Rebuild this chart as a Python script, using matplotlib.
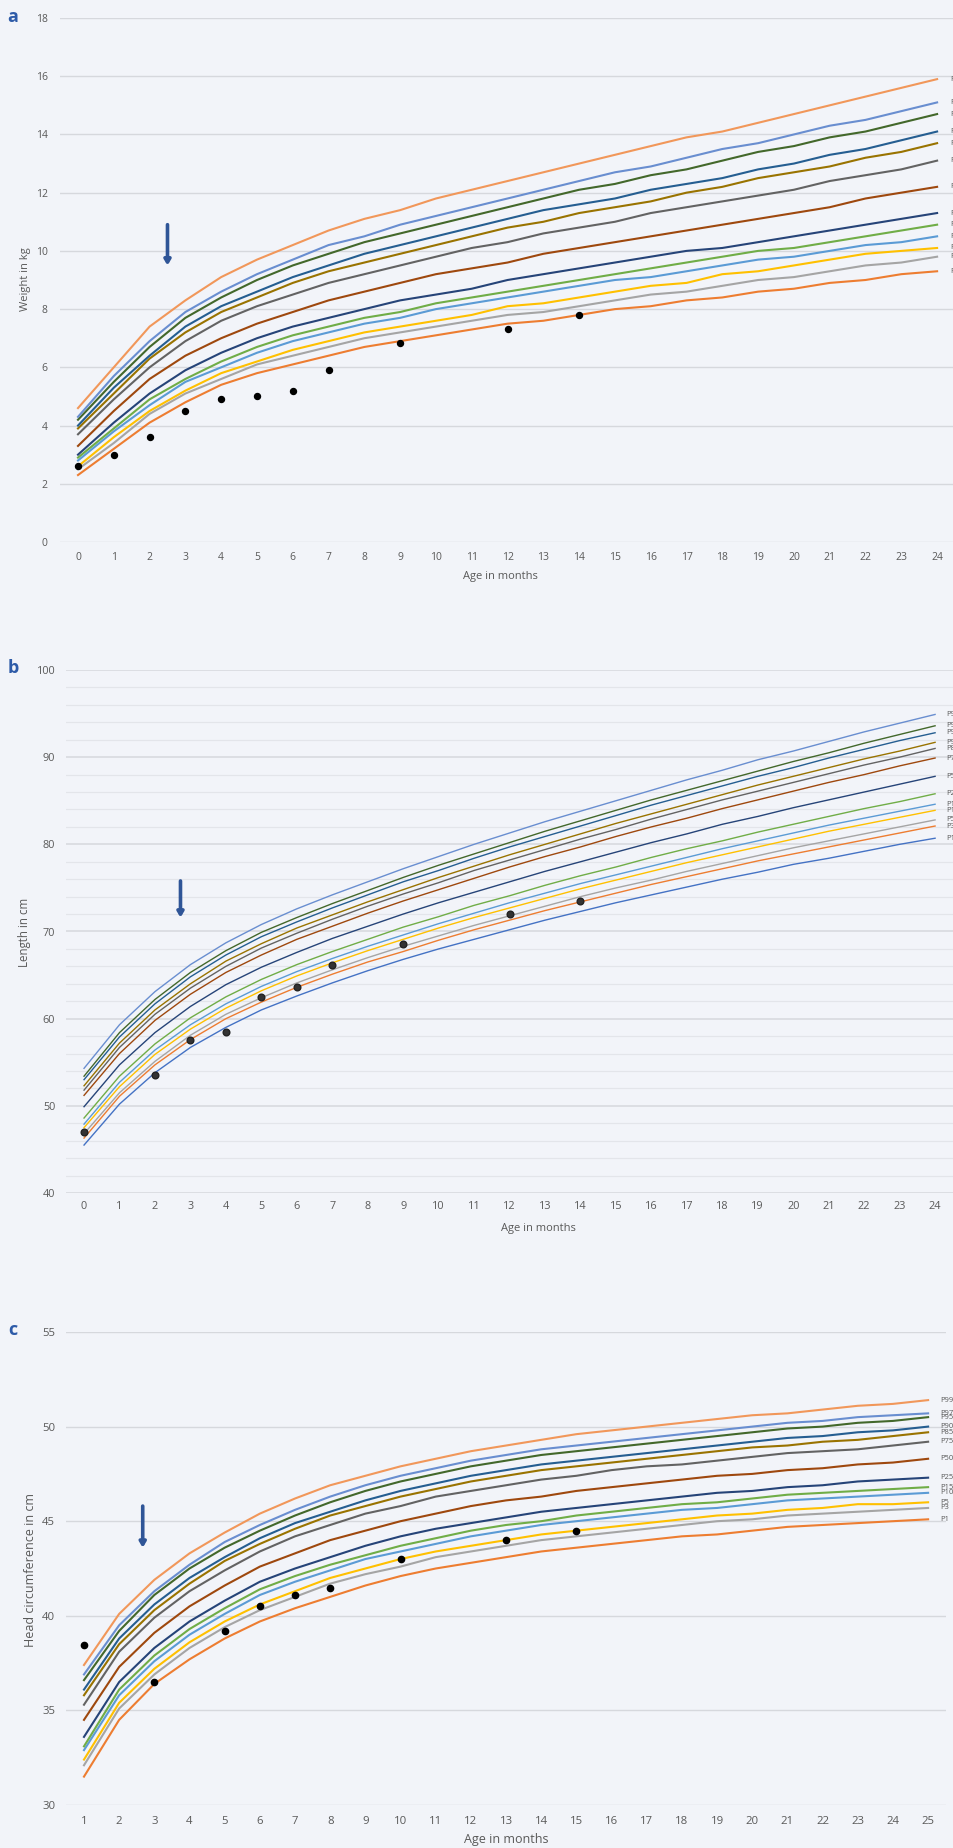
import numpy as np
import matplotlib
matplotlib.use('Agg')
import matplotlib.pyplot as plt

# ---- data ----
pct_labels = ['P1', 'P3', 'P5', 'P10', 'P15', 'P25', 'P50', 'P75', 'P85', 'P90', 'P95', 'P97', 'P99']

months = list(range(0, 25))
hc_x = list(range(1, 26))

weight = {
    'P1':  [2.3, 3.2, 4.1, 4.8, 5.4, 5.8, 6.1, 6.4, 6.7, 6.9, 7.1, 7.3, 7.5, 7.6, 7.8, 8.0, 8.1, 8.3, 8.4, 8.6, 8.7, 8.9, 9.0, 9.2, 9.3],
    'P3':  [2.5, 3.4, 4.4, 5.1, 5.6, 6.1, 6.4, 6.7, 7.0, 7.2, 7.4, 7.6, 7.8, 7.9, 8.1, 8.3, 8.5, 8.6, 8.8, 9.0, 9.1, 9.3, 9.5, 9.6, 9.8],
    'P5':  [2.6, 3.6, 4.5, 5.2, 5.8, 6.2, 6.6, 6.9, 7.2, 7.4, 7.6, 7.8, 8.1, 8.2, 8.4, 8.6, 8.8, 8.9, 9.2, 9.3, 9.5, 9.7, 9.9, 10.0, 10.1],
    'P10': [2.8, 3.8, 4.7, 5.5, 6.0, 6.5, 6.9, 7.2, 7.5, 7.7, 8.0, 8.2, 8.4, 8.6, 8.8, 9.0, 9.1, 9.3, 9.5, 9.7, 9.8, 10.0, 10.2, 10.3, 10.5],
    'P15': [2.9, 3.9, 4.9, 5.6, 6.2, 6.7, 7.1, 7.4, 7.7, 7.9, 8.2, 8.4, 8.6, 8.8, 9.0, 9.2, 9.4, 9.6, 9.8, 10.0, 10.1, 10.3, 10.5, 10.7, 10.9],
    'P25': [3.0, 4.1, 5.1, 5.9, 6.5, 7.0, 7.4, 7.7, 8.0, 8.3, 8.5, 8.7, 9.0, 9.2, 9.4, 9.6, 9.8, 10.0, 10.1, 10.3, 10.5, 10.7, 10.9, 11.1, 11.3],
    'P50': [3.3, 4.5, 5.6, 6.4, 7.0, 7.5, 7.9, 8.3, 8.6, 8.9, 9.2, 9.4, 9.6, 9.9, 10.1, 10.3, 10.5, 10.7, 10.9, 11.1, 11.3, 11.5, 11.8, 12.0, 12.2],
    'P75': [3.7, 4.9, 6.0, 6.9, 7.6, 8.1, 8.5, 8.9, 9.2, 9.5, 9.8, 10.1, 10.3, 10.6, 10.8, 11.0, 11.3, 11.5, 11.7, 11.9, 12.1, 12.4, 12.6, 12.8, 13.1],
    'P85': [3.9, 5.1, 6.3, 7.2, 7.9, 8.4, 8.9, 9.3, 9.6, 9.9, 10.2, 10.5, 10.8, 11.0, 11.3, 11.5, 11.7, 12.0, 12.2, 12.5, 12.7, 12.9, 13.2, 13.4, 13.7],
    'P90': [4.0, 5.3, 6.4, 7.4, 8.1, 8.6, 9.1, 9.5, 9.9, 10.2, 10.5, 10.8, 11.1, 11.4, 11.6, 11.8, 12.1, 12.3, 12.5, 12.8, 13.0, 13.3, 13.5, 13.8, 14.1],
    'P95': [4.2, 5.5, 6.7, 7.7, 8.4, 9.0, 9.5, 9.9, 10.3, 10.6, 10.9, 11.2, 11.5, 11.8, 12.1, 12.3, 12.6, 12.8, 13.1, 13.4, 13.6, 13.9, 14.1, 14.4, 14.7],
    'P97': [4.3, 5.7, 6.9, 7.9, 8.6, 9.2, 9.7, 10.2, 10.5, 10.9, 11.2, 11.5, 11.8, 12.1, 12.4, 12.7, 12.9, 13.2, 13.5, 13.7, 14.0, 14.3, 14.5, 14.8, 15.1],
    'P99': [4.6, 6.0, 7.4, 8.3, 9.1, 9.7, 10.2, 10.7, 11.1, 11.4, 11.8, 12.1, 12.4, 12.7, 13.0, 13.3, 13.6, 13.9, 14.1, 14.4, 14.7, 15.0, 15.3, 15.6, 15.9],
}

length = {
    'P1':  [45.5, 50.2, 53.8, 56.7, 59.0, 61.0, 62.6, 64.1, 65.5, 66.8, 68.0, 69.1, 70.2, 71.3, 72.3, 73.3, 74.2, 75.1, 76.0, 76.8, 77.7, 78.4, 79.2, 80.0, 80.7],
    'P3':  [46.3, 51.1, 54.7, 57.6, 60.0, 61.9, 63.6, 65.1, 66.5, 67.7, 69.0, 70.2, 71.3, 72.4, 73.4, 74.4, 75.4, 76.3, 77.2, 78.1, 78.9, 79.7, 80.5, 81.3, 82.1],
    'P5':  [46.8, 51.5, 55.1, 58.1, 60.5, 62.4, 64.1, 65.6, 67.0, 68.3, 69.5, 70.7, 71.8, 72.9, 74.0, 75.0, 75.9, 76.9, 77.8, 78.7, 79.6, 80.4, 81.2, 82.0, 82.8],
    'P10': [47.5, 52.2, 55.9, 58.8, 61.2, 63.2, 64.9, 66.4, 67.8, 69.1, 70.4, 71.6, 72.7, 73.8, 74.9, 75.9, 76.9, 77.9, 78.8, 79.7, 80.6, 81.5, 82.3, 83.1, 83.9],
    'P15': [47.9, 52.7, 56.4, 59.3, 61.7, 63.7, 65.4, 66.9, 68.3, 69.6, 70.9, 72.1, 73.3, 74.4, 75.5, 76.5, 77.5, 78.5, 79.5, 80.4, 81.3, 82.2, 83.0, 83.8, 84.6],
    'P25': [48.6, 53.4, 57.1, 60.1, 62.5, 64.5, 66.2, 67.7, 69.1, 70.5, 71.7, 73.0, 74.1, 75.3, 76.4, 77.4, 78.5, 79.5, 80.4, 81.4, 82.3, 83.2, 84.1, 84.9, 85.8],
    'P50': [49.9, 54.7, 58.4, 61.4, 63.9, 65.9, 67.6, 69.2, 70.6, 72.0, 73.3, 74.5, 75.7, 76.9, 78.0, 79.1, 80.2, 81.2, 82.3, 83.2, 84.2, 85.1, 86.0, 86.9, 87.8],
    'P75': [51.2, 56.0, 59.8, 62.8, 65.3, 67.3, 69.1, 70.6, 72.1, 73.5, 74.8, 76.1, 77.4, 78.6, 79.7, 80.9, 82.0, 83.0, 84.1, 85.1, 86.1, 87.1, 88.0, 89.0, 89.9],
    'P85': [51.8, 56.7, 60.5, 63.5, 66.0, 68.1, 69.8, 71.4, 72.9, 74.3, 75.6, 77.0, 78.2, 79.4, 80.6, 81.7, 82.9, 84.0, 85.1, 86.1, 87.1, 88.1, 89.1, 90.0, 91.0],
    'P90': [52.3, 57.2, 61.0, 64.0, 66.6, 68.6, 70.4, 71.9, 73.4, 74.8, 76.2, 77.5, 78.8, 80.0, 81.2, 82.4, 83.5, 84.6, 85.7, 86.8, 87.8, 88.8, 89.8, 90.7, 91.7],
    'P95': [53.0, 57.9, 61.7, 64.8, 67.3, 69.4, 71.1, 72.7, 74.2, 75.7, 77.0, 78.4, 79.7, 80.9, 82.1, 83.3, 84.5, 85.6, 86.7, 87.8, 88.8, 89.9, 90.9, 91.9, 92.8],
    'P97': [53.4, 58.4, 62.2, 65.3, 67.8, 69.9, 71.6, 73.2, 74.7, 76.2, 77.6, 78.9, 80.2, 81.5, 82.7, 83.9, 85.1, 86.2, 87.3, 88.4, 89.5, 90.5, 91.6, 92.6, 93.6],
    'P99': [54.3, 59.3, 63.1, 66.2, 68.7, 70.8, 72.6, 74.2, 75.7, 77.2, 78.6, 80.0, 81.3, 82.6, 83.8, 85.0, 86.2, 87.4, 88.5, 89.7, 90.7, 91.8, 92.9, 93.9, 94.9],
}

head = {
    'P1':  [31.5, 34.5, 36.4, 37.7, 38.8, 39.7, 40.4, 41.0, 41.6, 42.1, 42.5, 42.8, 43.1, 43.4, 43.6, 43.8, 44.0, 44.2, 44.3, 44.5, 44.7, 44.8, 44.9, 45.0, 45.1],
    'P3':  [32.1, 35.1, 36.9, 38.3, 39.4, 40.3, 41.0, 41.7, 42.2, 42.6, 43.1, 43.4, 43.7, 44.0, 44.2, 44.4, 44.6, 44.8, 45.0, 45.1, 45.3, 45.4, 45.5, 45.6, 45.7],
    'P5':  [32.4, 35.4, 37.2, 38.6, 39.7, 40.6, 41.3, 42.0, 42.5, 43.0, 43.4, 43.7, 44.0, 44.3, 44.5, 44.7, 44.9, 45.1, 45.3, 45.4, 45.6, 45.7, 45.9, 45.9, 46.0],
    'P10': [32.9, 35.8, 37.6, 39.0, 40.1, 41.1, 41.8, 42.4, 43.0, 43.4, 43.8, 44.2, 44.5, 44.8, 45.0, 45.2, 45.4, 45.6, 45.7, 45.9, 46.1, 46.2, 46.3, 46.4, 46.5],
    'P15': [33.1, 36.1, 37.9, 39.3, 40.4, 41.4, 42.1, 42.7, 43.2, 43.7, 44.1, 44.5, 44.8, 45.0, 45.3, 45.5, 45.7, 45.9, 46.0, 46.2, 46.4, 46.5, 46.6, 46.7, 46.8],
    'P25': [33.6, 36.5, 38.3, 39.7, 40.8, 41.8, 42.5, 43.1, 43.7, 44.2, 44.6, 44.9, 45.2, 45.5, 45.7, 45.9, 46.1, 46.3, 46.5, 46.6, 46.8, 46.9, 47.1, 47.2, 47.3],
    'P50': [34.5, 37.3, 39.1, 40.5, 41.6, 42.6, 43.3, 44.0, 44.5, 45.0, 45.4, 45.8, 46.1, 46.3, 46.6, 46.8, 47.0, 47.2, 47.4, 47.5, 47.7, 47.8, 48.0, 48.1, 48.3],
    'P75': [35.3, 38.1, 39.9, 41.3, 42.4, 43.4, 44.2, 44.8, 45.4, 45.8, 46.3, 46.6, 46.9, 47.2, 47.4, 47.7, 47.9, 48.0, 48.2, 48.4, 48.6, 48.7, 48.8, 49.0, 49.2],
    'P85': [35.8, 38.5, 40.3, 41.7, 42.9, 43.8, 44.6, 45.3, 45.8, 46.3, 46.7, 47.1, 47.4, 47.7, 47.9, 48.1, 48.3, 48.5, 48.7, 48.9, 49.0, 49.2, 49.3, 49.5, 49.7],
    'P90': [36.1, 38.8, 40.6, 42.0, 43.1, 44.1, 44.9, 45.5, 46.1, 46.6, 47.0, 47.4, 47.7, 48.0, 48.2, 48.4, 48.6, 48.8, 49.0, 49.2, 49.4, 49.5, 49.7, 49.8, 50.0],
    'P95': [36.6, 39.2, 41.1, 42.5, 43.6, 44.5, 45.3, 46.0, 46.6, 47.1, 47.5, 47.9, 48.2, 48.5, 48.7, 48.9, 49.1, 49.3, 49.5, 49.7, 49.9, 50.0, 50.2, 50.3, 50.5],
    'P97': [36.9, 39.5, 41.3, 42.7, 43.9, 44.8, 45.6, 46.3, 46.9, 47.4, 47.8, 48.2, 48.5, 48.8, 49.0, 49.2, 49.4, 49.6, 49.8, 50.0, 50.2, 50.3, 50.5, 50.6, 50.7],
    'P99': [37.4, 40.1, 41.9, 43.3, 44.4, 45.4, 46.2, 46.9, 47.4, 47.9, 48.3, 48.7, 49.0, 49.3, 49.6, 49.8, 50.0, 50.2, 50.4, 50.6, 50.7, 50.9, 51.1, 51.2, 51.4],
}

# child measurements
child_wt_age = [0, 1, 2, 3, 4, 5, 6, 7, 9, 12, 14]
child_wt = [2.6, 3.0, 3.6, 4.5, 4.9, 5.0, 5.2, 5.9, 6.85, 7.3, 7.8]
child_len_age = [0, 2, 3, 4, 5, 6, 7, 9, 12, 14]
child_len = [47.0, 53.5, 57.5, 58.5, 62.5, 63.6, 66.1, 68.6, 72.0, 73.5]
child_hc_pos = [1, 3, 5, 6, 7, 8, 10, 13, 15]
child_hc = [38.45, 36.5, 39.2, 40.5, 41.1, 41.45, 43.0, 44.0, 44.5]

# arrows (x, y_start, y_end)
arrow_a = (2.5, 10.9, 9.5)
arrow_b = (2.72, 75.8, 71.6)
arrow_c = (2.67, 45.8, 43.6)

# excel theme colours
cols_ac = ['#ED7D31', '#A5A5A5', '#FFC000', '#5B9BD5', '#70AD47', '#264478', '#9E480E',
           '#636363', '#997300', '#255E91', '#43682B', '#698ED0', '#F1975A']
cols_b = ['#4472C4', '#ED7D31', '#A5A5A5', '#FFC000', '#5B9BD5', '#70AD47', '#264478',
          '#9E480E', '#636363', '#997300', '#255E91', '#43682B', '#698ED0']

BG = '#F2F4F9'
TXT = '#595959'
GRID = '#D6D8DD'
ARROW = '#2F5597'
FONT = 'Open Sans'

W, H = 954, 1848
fig = plt.figure(figsize=(W / 100, H / 100), dpi=100, facecolor=BG)


def px_axes(left, top, right, bottom):
    return fig.add_axes([left / W, 1 - bottom / H, (right - left) / W, (bottom - top) / H])


def style(ax, fs):
    ax.set_facecolor(BG)
    for s in ax.spines.values():
        s.set_visible(False)
    ax.tick_params(length=0, labelsize=fs, labelcolor=TXT)
    for lab in ax.get_xticklabels() + ax.get_yticklabels():
        lab.set_family(FONT)


def draw_arrow(ax, arr):
    x, y0, y1 = arr
    ax.annotate('', xy=(x, y1), xytext=(x, y0),
                arrowprops=dict(arrowstyle='-|>,head_width=0.18,head_length=0.3',
                                color=ARROW, lw=2.6, shrinkA=0, shrinkB=0), zorder=6)


# ---------- panel a ----------
ax = px_axes(60.1, 18, 955, 542)
ax.set_xlim(-0.5, 24.5)
ax.set_ylim(0, 18)
ax.set_yticks(np.arange(0, 19, 2))
ax.set_xticks(months)
ax.grid(axis='y', color=GRID, lw=1.0)
ax.set_axisbelow(True)
for lab, c in zip(pct_labels, cols_ac):
    ax.plot(months, weight[lab], color=c, lw=1.5, zorder=3)
    ax.text(24.36, weight[lab][-1], lab, fontsize=5.5, color=TXT, va='center',
            family=FONT, clip_on=False)
ax.plot(child_wt_age, child_wt, 'o', color='black', ms=4.3, zorder=5)
draw_arrow(ax, arrow_a)
ax.tick_params(axis='x', pad=7)
ax.tick_params(axis='y', pad=9)
style(ax, 7.5)

# ---------- panel b ----------
ax = px_axes(66.3, 670, 952.8, 1193)
ax.set_xlim(-0.5, 24.5)
ax.set_ylim(40, 100)
ax.set_yticks(np.arange(40, 101, 10))
ax.set_yticks(np.arange(40, 101, 2), minor=True)
ax.set_xticks(months)
ax.grid(axis='y', which='minor', color='#E3E5EA', lw=0.9)
ax.grid(axis='y', which='major', color=GRID, lw=1.1)
ax.set_axisbelow(True)
for lab, c in zip(pct_labels, cols_b):
    ax.plot(months, length[lab], color=c, lw=1.0, zorder=3)
    ax.text(24.31, length[lab][-1], lab, fontsize=5.5, color=TXT, va='center',
            family=FONT, clip_on=False)
ax.plot(child_len_age, child_len, 'o', color='#333333', mec='#222222', ms=4.8, zorder=5)
draw_arrow(ax, arrow_b)
ax.tick_params(axis='both', which='minor', length=0)
ax.tick_params(axis='x', pad=6)
ax.tick_params(axis='y', pad=8)
style(ax, 7.8)

# ---------- panel c ----------
ax = px_axes(66.4, 1332, 945.7, 1805)
ax.set_xlim(0.5, 25.5)
ax.set_ylim(30, 55)
ax.set_yticks(np.arange(30, 56, 5))
ax.set_xticks(hc_x)
ax.grid(axis='y', color=GRID, lw=1.0)
ax.set_axisbelow(True)
for lab, c in zip(pct_labels, cols_ac):
    ax.plot(hc_x, head[lab], color=c, lw=1.5, zorder=3)
    ax.text(25.34, head[lab][-1], lab, fontsize=5.5, color=TXT, va='center',
            family=FONT, clip_on=False)
ax.plot(child_hc_pos, child_hc, 'o', color='black', ms=4.5, zorder=5)
draw_arrow(ax, arrow_c)
ax.tick_params(axis='x', pad=8)
ax.tick_params(axis='y', pad=8)
style(ax, 8.2)

# ---------- axis titles and panel letters ----------
fig.text(500 / W, 1 - 577 / H, 'Age in months', ha='center', va='center', fontsize=8, color=TXT, family=FONT)
fig.text(538 / W, 1 - 1229 / H, 'Age in months', ha='center', va='center', fontsize=8, color=TXT, family=FONT)
fig.text(506 / W, 1 - 1839 / H, 'Age in months', ha='center', va='center', fontsize=9, color=TXT, family=FONT)
fig.text(26 / W, 1 - 279 / H, 'Weight in kg', rotation=90, ha='center', va='center', fontsize=8, color=TXT, family=FONT)
fig.text(25 / W, 1 - 932 / H, 'Length in cm', rotation=90, ha='center', va='center', fontsize=8.3, color=TXT, family=FONT)
fig.text(31 / W, 1 - 1570 / H, 'Head circumference in cm', rotation=90, ha='center', va='center', fontsize=9, color=TXT, family=FONT)

for letter, yy in [('a', 17), ('b', 668), ('c', 1330)]:
    fig.text(13 / W, 1 - yy / H, letter, ha='center', va='center', fontsize=13,
             fontweight='bold', color='#2E5BA8', family=FONT)

fig.savefig('out.png', dpi=100, facecolor=BG)
